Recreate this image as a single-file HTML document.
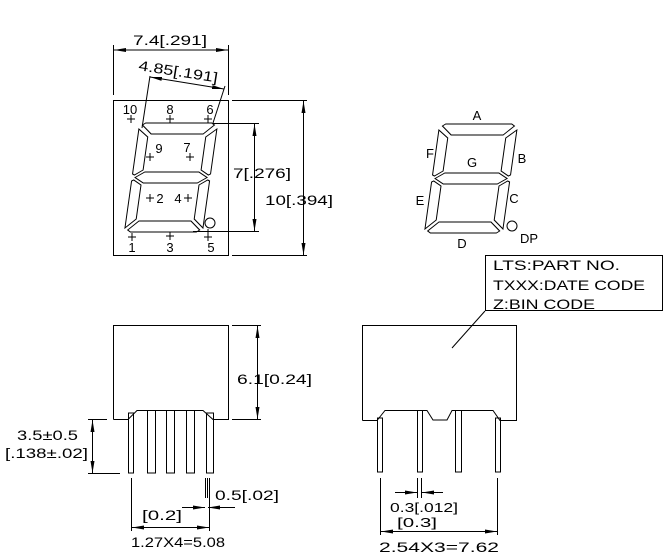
<!DOCTYPE html>
<html><head><meta charset="utf-8"><style>
html,body{margin:0;padding:0;background:#fff;}
svg{display:block;}
text{font-family:"Liberation Sans",sans-serif;fill:#000;}
</style></head><body>
<svg width="667" height="557" viewBox="0 0 667 557" xmlns="http://www.w3.org/2000/svg">
<defs>
<marker id="ar" viewBox="0 0 12 4" refX="12" refY="2" markerWidth="12" markerHeight="4" markerUnits="userSpaceOnUse" orient="auto-start-reverse">
<path d="M0,0 L12,2 L0,4 z" fill="#000"/>
</marker>
<g id="digit" fill="none" stroke="#000" stroke-width="1" transform="skewX(-8)">
<polygon points="160,125 163,123 229,123 232,125 222,134 170,134"/>
<polygon points="160,230 163,232 229,232 232,230 222,221 170,221"/>
<polygon points="160,177.5 169,172 223,172 232,177.5 223,183 169,183"/>
<polygon points="157,129 167,137 167,170 159,175 157,174"/>
<polygon points="235,129 225,137 225,170 233,175 235,174"/>
<polygon points="157,181 159,180 167,185 167,219 157,228"/>
<polygon points="235,181 233,180 225,185 225,219 235,228"/>
</g>
</defs>
<g stroke="#000" stroke-width="1" fill="none">
<rect x="113.5" y="100.5" width="115" height="155"/>
<use href="#digit"/>
<circle cx="210" cy="223" r="5"/>
<line x1="113.5" y1="45" x2="113.5" y2="95"/>
<line x1="228.5" y1="45" x2="228.5" y2="95"/>
<line x1="114" y1="50" x2="228" y2="50" marker-start="url(#ar)" marker-end="url(#ar)"/>
<line x1="142" y1="128" x2="150" y2="76"/>
<line x1="213" y1="123" x2="225" y2="86"/>
<line x1="150" y1="77" x2="224" y2="89" marker-start="url(#ar)" marker-end="url(#ar)"/>
<line x1="232" y1="100.5" x2="307" y2="100.5"/>
<line x1="232" y1="255.5" x2="307" y2="255.5"/>
<line x1="303.5" y1="101" x2="303.5" y2="255" marker-start="url(#ar)" marker-end="url(#ar)"/>
<line x1="213" y1="123.5" x2="259" y2="123.5"/>
<line x1="193" y1="231.5" x2="259" y2="231.5"/>
<line x1="254.5" y1="124" x2="254.5" y2="231" marker-start="url(#ar)" marker-end="url(#ar)"/>
<path d="M127,119h8M131,115v8 M166,119h8M170,115v8 M204,119h8M208,115v8 M146,157h8M150,153v8 M186,157h8M190,153v8 M146,198h8M150,194v8 M184,198h8M188,194v8 M128,237h8M132,233v8 M166,236h8M170,232v8 M204,237h8M208,229v12"/>
<use href="#digit" transform="translate(300,1)"/>
<circle cx="512" cy="226" r="5"/>
<path d="M113.5,419.5 V325.5 H228.5 V419.5 H213 L203,410.5 H137 L128,419.5 H113.5"/>
<rect x="128.5" y="413" width="5" height="60"/>
<rect x="147.5" y="410.5" width="8" height="62.5"/>
<rect x="166.5" y="410.5" width="8" height="62.5"/>
<rect x="186.5" y="410.5" width="8" height="62.5"/>
<rect x="206.5" y="413" width="7" height="60"/>
<line x1="232" y1="325.5" x2="261" y2="325.5"/>
<line x1="232" y1="419.5" x2="261" y2="419.5"/>
<line x1="257.5" y1="326" x2="257.5" y2="419" marker-start="url(#ar)" marker-end="url(#ar)"/>
<line x1="88" y1="419.5" x2="107" y2="419.5"/>
<line x1="88" y1="473.5" x2="120" y2="473.5"/>
<line x1="92.5" y1="420" x2="92.5" y2="473" marker-start="url(#ar)" marker-end="url(#ar)"/>
<line x1="131.5" y1="478" x2="131.5" y2="531"/>
<line x1="209.5" y1="478" x2="209.5" y2="531"/>
<line x1="205.5" y1="478" x2="205.5" y2="498"/>
<line x1="207.5" y1="478" x2="207.5" y2="498"/>
<line x1="132" y1="527.5" x2="209" y2="527.5" marker-start="url(#ar)" marker-end="url(#ar)"/>
<line x1="182" y1="507.5" x2="205" y2="507.5" marker-end="url(#ar)"/>
<line x1="235" y1="507.5" x2="208" y2="507.5" marker-end="url(#ar)"/>
<path d="M362.5,420.5 V325.5 H516.5 V420.5 H500 L493,410.5 H452 L447,420 H433 L427,410.5 H385 L377,420.5 H362.5"/>
<rect x="377.5" y="418" width="5" height="54"/>
<rect x="417.5" y="410.5" width="5" height="61.5"/>
<rect x="455.5" y="410.5" width="6" height="61.5"/>
<rect x="495.5" y="418" width="5" height="54"/>
<rect x="485.5" y="255.5" width="177" height="55"/>
<line x1="485" y1="311" x2="452" y2="348"/>
<line x1="380.5" y1="478" x2="380.5" y2="535"/>
<line x1="497.5" y1="478" x2="497.5" y2="535"/>
<line x1="381" y1="531.5" x2="497" y2="531.5" marker-start="url(#ar)" marker-end="url(#ar)"/>
<line x1="417.5" y1="478" x2="417.5" y2="498"/>
<line x1="421.5" y1="478" x2="421.5" y2="498"/>
<line x1="395" y1="492.5" x2="417" y2="492.5" marker-end="url(#ar)"/>
<line x1="443" y1="492.5" x2="422" y2="492.5" marker-end="url(#ar)"/>
</g>
<g font-size="14">
<text x="133" y="45" textLength="74" lengthAdjust="spacingAndGlyphs">7.4[.291]</text>
<text x="0" y="0" textLength="80" lengthAdjust="spacingAndGlyphs" transform="translate(138,70) rotate(9)">4.85[.191]</text>
<text x="233" y="178" textLength="58" lengthAdjust="spacingAndGlyphs">7[.276]</text>
<text x="265" y="205" textLength="68" lengthAdjust="spacingAndGlyphs">10[.394]</text>
<text x="237" y="384" textLength="75" lengthAdjust="spacingAndGlyphs">6.1[0.24]</text>
<text x="17" y="440" textLength="61" lengthAdjust="spacingAndGlyphs">3.5±0.5</text>
<text x="5" y="458" textLength="83" lengthAdjust="spacingAndGlyphs">[.138±.02]</text>
<text x="215" y="500" textLength="64" lengthAdjust="spacingAndGlyphs">0.5[.02]</text>
<text x="142" y="520" textLength="40" lengthAdjust="spacingAndGlyphs">[0.2]</text>
<text x="131" y="547" textLength="94" lengthAdjust="spacingAndGlyphs">1.27X4=5.08</text>
<text x="390" y="512" font-size="13" textLength="68" lengthAdjust="spacingAndGlyphs">0.3[.012]</text>
<text x="397" y="527" font-size="13" textLength="40" lengthAdjust="spacingAndGlyphs">[0.3]</text>
<text x="379" y="552" textLength="120" lengthAdjust="spacingAndGlyphs">2.54X3=7.62</text>
<text x="493" y="270" textLength="127" lengthAdjust="spacingAndGlyphs">LTS:PART NO.</text>
<text x="493" y="290" textLength="152" lengthAdjust="spacingAndGlyphs">TXXX:DATE CODE</text>
<text x="493" y="309" textLength="102" lengthAdjust="spacingAndGlyphs">Z:BIN CODE</text>
</g>
<g font-size="13" text-anchor="middle">
<text x="130" y="114">10</text>
<text x="170" y="114">8</text>
<text x="210" y="114">6</text>
<text x="159" y="153">9</text>
<text x="187" y="152">7</text>
<text x="160" y="203">2</text>
<text x="178" y="203">4</text>
<text x="132" y="252">1</text>
<text x="170" y="252">3</text>
<text x="211" y="252">5</text>
<text x="477" y="120">A</text>
<text x="430" y="158">F</text>
<text x="522" y="163">B</text>
<text x="472" y="167">G</text>
<text x="420" y="205">E</text>
<text x="514" y="203">C</text>
<text x="462" y="248">D</text>
<text x="529" y="243">DP</text>
</g>
</svg>
</body></html>
